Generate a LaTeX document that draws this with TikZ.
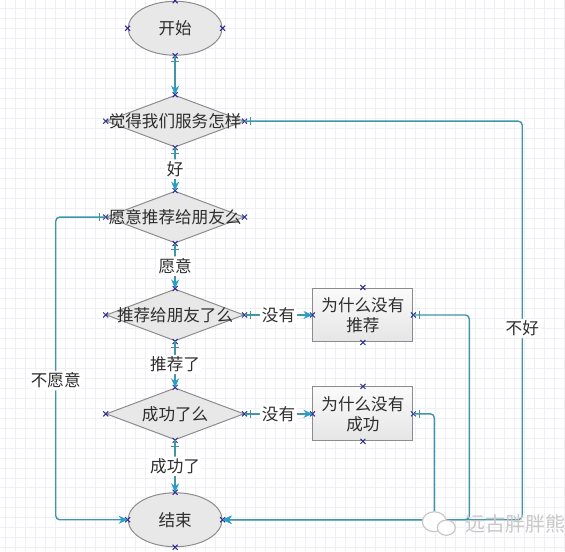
\documentclass[tikz,border=0pt]{standalone}
\usepackage{fontspec}
\newfontfamily\cjk{Noto Sans CJK SC}
\usetikzlibrary{shapes.geometric, shapes.misc, positioning, arrows.meta, decorations.markings}
\definecolor{linecol}{RGB}{62,150,168}
\definecolor{tipcol}{RGB}{38,160,200}
\definecolor{bordercol}{RGB}{140,140,140}
\definecolor{shapefill}{RGB}{232,232,232}
\definecolor{portcol}{RGB}{45,45,150}
\definecolor{gridcol}{RGB}{240,240,244}
\definecolor{markcol}{RGB}{200,200,200}
\definecolor{textcol}{RGB}{45,45,45}
\tikzset{
  startstop/.style={ellipse, minimum width=47pt, minimum height=27pt, inner sep=0pt, draw=bordercol, line width=0.5pt, fill=shapefill},
  decision/.style={diamond, minimum width=69pt, minimum height=26pt, inner sep=0pt, draw=bordercol, line width=0.5pt, fill=shapefill},
  process/.style={rectangle, minimum width=50pt, minimum height=27pt, inner sep=1pt, align=center, draw=bordercol, line width=0.5pt, top color=gray!4, bottom color=gray!20},
  port/.style={cross out, draw=portcol, line width=0.5pt, minimum size=2pt, inner sep=0pt},
  arrow/.style={draw=linecol, line width=0.7pt, rounded corners=2pt, -{Stealth[length=4.5pt, width=4pt, color=tipcol]},
    postaction={decorate}, decoration={markings, mark=at position 3pt with {\draw[-, linecol, line width=0.5pt] (0,-2pt) -- (0,2pt);}}},
  cond/.style={fill=white, inner sep=1pt},
  watermark/.style={text=markcol, font=\cjk\fontsize{10}{12}\selectfont}
}
\begin{document}
\begin{tikzpicture}[every node/.style={font=\cjk\fontsize{8.3}{10}\selectfont, text=textcol}]
  % fondo
  \draw[gridcol, line width=0.3pt, step=5pt] (-87.5pt,-261.5pt) grid (195pt,14pt);
  \useasboundingbox (-87.5pt,-261.5pt) rectangle (195pt,14pt);

  \node (start) [startstop] {开始};
  \node (q1) [decision, below=19.5pt of start, label=center:觉得我们服务怎样] {};
  \node (q2) [decision, below=21.5pt of q1, label=center:愿意推荐给朋友么] {};
  \node (q3) [decision, below=22.5pt of q2, label=center:推荐给朋友了么] {};
  \node (q4) [decision, below=23pt of q3, label=center:成功了么] {};
  \node (stop) [startstop, below=26pt of q4] {结束};

  % cajas de la derecha
  \node (why1) [process, right=34pt of q3] {为什么没有\\推荐};
  \node (why2) [process, right=34pt of q4] {为什么没有\\成功};

  % puntos de conexion
  \foreach \n in {start, q1, q2, q3, q4, stop, why1, why2}
    \foreach \a in {north, south, east, west}
      \node [port] at (\n.\a) {};

  % flujo principal
  \draw [arrow] (start) -- (q1);
  \draw [arrow] (q1) -- node[cond] {好} (q2);
  \draw [arrow] (q2) -- node[cond] {愿意} (q3);
  \draw [arrow] (q3) -- node[cond] {推荐了} (q4);
  \draw [arrow] (q4) -- node[cond] {成功了} (stop);

  % ramas "no"
  \draw [arrow] (q3) -- node[cond] {没有} (why1);
  \draw [arrow] (q4) -- node[cond] {没有} (why2);

  % retornos hacia el fin
  \draw [arrow] (q1.east) -- ++(139pt,0) |- node[cond, pos=0.26] {不好} (stop.east);
  \draw [arrow] (why1.east) -- ++(28pt,0) |- (stop.east);
  \draw [arrow] (why2.east) -- ++(10.5pt,0) |- (stop.east);
  \draw [arrow] (q2.west) -- ++(-25pt,0) |- node[cond, pos=0.27] {不愿意} (stop.west);

  % marca de agua
  \node (wm) [watermark, right=118pt of stop, yshift=-2pt] {远古胖胖熊};
  \draw[markcol, line width=0.6pt, fill=white] ([xshift=-12pt, yshift=1pt]wm.west) ellipse (6pt and 5pt);
  \draw[markcol, line width=0.6pt, fill=white] ([xshift=-6pt, yshift=-2pt]wm.west) ellipse (4.5pt and 3.8pt);
\end{tikzpicture}
\end{document}
